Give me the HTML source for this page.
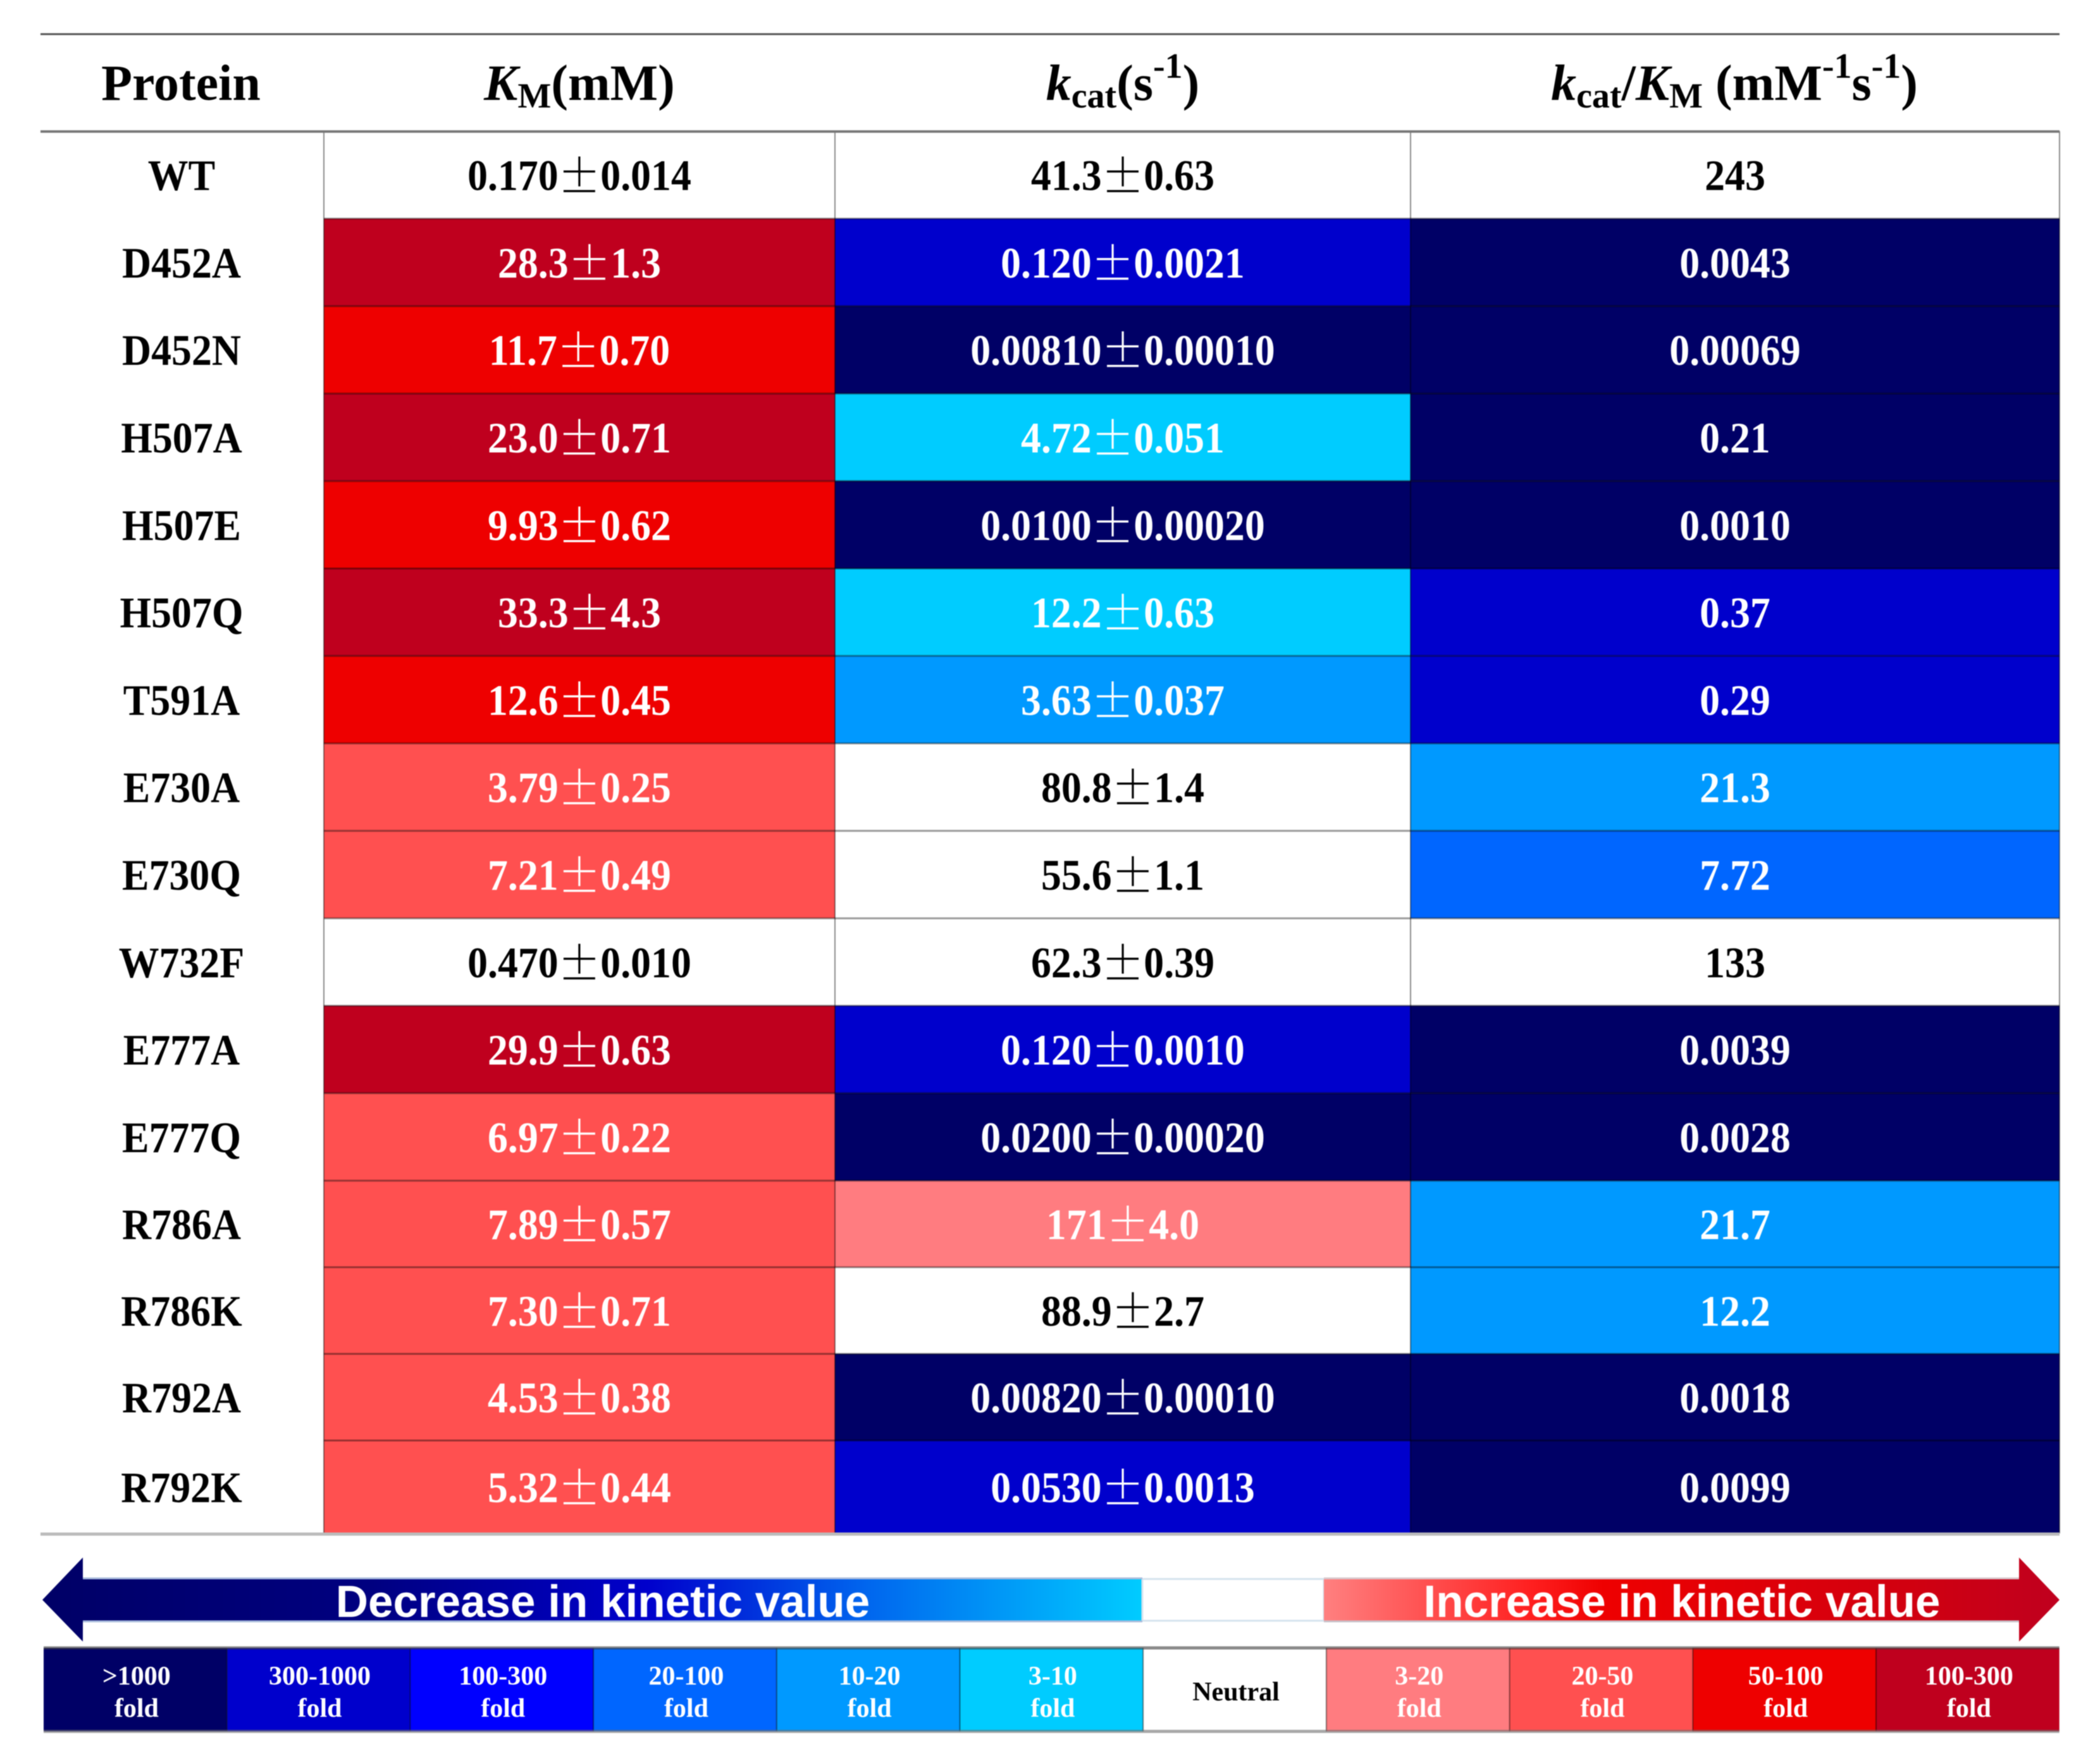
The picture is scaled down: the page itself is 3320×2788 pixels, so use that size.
<!DOCTYPE html>
<html lang="en">
<head>
<meta charset="utf-8">
<title>Kinetic parameters of protein variants</title>
<style>
html,body{margin:0;padding:0;background:#fff;}
svg{display:block;filter:blur(0.9px);}
text{font-family:"Liberation Serif",serif;font-weight:bold;text-anchor:middle;}
.hdr{font-size:80px;fill:#000;}
.sub{font-size:56px;}
.sup{font-size:56px;}
.arrow-label{font-family:"Liberation Sans",sans-serif;font-size:71px;fill:#fff;}
.pm{font-family:"Noto Serif CJK SC","Noto Sans CJK SC",serif;font-weight:bold;font-size:72px;}
</style>
</head>
<body>
<svg id="chart" xmlns="http://www.w3.org/2000/svg" width="3320" height="2788" viewBox="0 0 3320 2788">
  <defs>
    <linearGradient id="decGrad" gradientUnits="userSpaceOnUse" x1="67" y1="0" x2="1806" y2="0">
      <stop offset="0" stop-color="#000066"/>
      <stop offset="0.3" stop-color="#000080"/>
      <stop offset="0.55" stop-color="#0000cc"/>
      <stop offset="0.75" stop-color="#0066ee"/>
      <stop offset="1" stop-color="#00ccff"/>
    </linearGradient>
    <linearGradient id="incGrad" gradientUnits="userSpaceOnUse" x1="2093" y1="0" x2="3256" y2="0">
      <stop offset="0" stop-color="#ff8080"/>
      <stop offset="0.28" stop-color="#ff2020"/>
      <stop offset="0.38" stop-color="#ee0000"/>
      <stop offset="0.8" stop-color="#d00010"/>
      <stop offset="1" stop-color="#bf001e"/>
    </linearGradient>
  </defs>
  <rect x="0" y="0" width="3320" height="2788" fill="#ffffff"/>

  <g id="cells"></g>

  <line x1="64" x2="3256" y1="54" y2="54" stroke="#555" stroke-width="3"/>
  <line x1="64" x2="3256" y1="208" y2="208" stroke="#777" stroke-width="4"/>
  <line x1="64" x2="3256" y1="2426" y2="2426" stroke="#bbb" stroke-width="5"/>

  <text class="hdr" x="286" y="158">Protein</text>
  <text class="hdr" x="916" y="158"><tspan font-style="italic">K</tspan><tspan class="sub" dy="12">M</tspan><tspan dy="-12">(mM)</tspan></text>
  <text class="hdr" x="1775" y="158"><tspan font-style="italic">k</tspan><tspan class="sub" dy="12">cat</tspan><tspan dy="-12">(s</tspan><tspan class="sup" dy="-35">-1</tspan><tspan dy="35">)</tspan></text>
  <text class="hdr" x="2742" y="158"><tspan font-style="italic">k</tspan><tspan class="sub" dy="12">cat</tspan><tspan dy="-12">/</tspan><tspan font-style="italic">K</tspan><tspan class="sub" dy="12">M</tspan><tspan dy="-12"> (mM</tspan><tspan class="sup" dy="-35">-1</tspan><tspan dy="35">s</tspan><tspan class="sup" dy="-35">-1</tspan><tspan dy="35">)</tspan></text>

  <polygon points="67,2530 131,2463 131,2497 1806,2497 1806,2563 131,2563 131,2596" fill="url(#decGrad)"/>
  <rect x="1806" y="2497" width="287" height="66" fill="#ffffff" stroke="#d5e3ee" stroke-width="3"/>
  <polygon points="2093,2497 3192,2497 3192,2463 3256,2530 3192,2596 3192,2563 2093,2563" fill="url(#incGrad)"/>
  <line x1="131" x2="1806" y1="2496" y2="2496" stroke="#a9bcdc" stroke-width="3"/>
  <line x1="131" x2="1806" y1="2564" y2="2564" stroke="#a9bcdc" stroke-width="3"/>
  <line x1="2093" x2="3192" y1="2496" y2="2496" stroke="#d8c8cc" stroke-width="3"/>
  <line x1="2093" x2="3192" y1="2564" y2="2564" stroke="#c8c0c8" stroke-width="3"/>
  <text class="arrow-label" x="953" y="2557">Decrease in kinetic value</text>
  <text class="arrow-label" x="2659" y="2557">Increase in kinetic value</text>

  <g id="legend"></g>
</svg>

<script>
// ---- table data ----
var proteins = ["WT","D452A","D452N","H507A","H507E","H507Q","T591A","E730A","E730Q","W732F","E777A","E777Q","R786A","R786K","R792A","R792K"];
var kmValues = ["0.170","28.3","11.7","23.0","9.93","33.3","12.6","3.79","7.21","0.470","29.9","6.97","7.89","7.30","4.53","5.32"];
var kmErrors = ["0.014","1.3","0.70","0.71","0.62","4.3","0.45","0.25","0.49","0.010","0.63","0.22","0.57","0.71","0.38","0.44"];
var kcatValues = ["41.3","0.120","0.00810","4.72","0.0100","12.2","3.63","80.8","55.6","62.3","0.120","0.0200","171","88.9","0.00820","0.0530"];
var kcatErrors = ["0.63","0.0021","0.00010","0.051","0.00020","0.63","0.037","1.4","1.1","0.39","0.0010","0.00020","4.0","2.7","0.00010","0.0013"];
var kcatKmValues = ["243","0.0043","0.00069","0.21","0.0010","0.37","0.29","21.3","7.72","133","0.0039","0.0028","21.7","12.2","0.0018","0.0099"];

// ---- legend data (fold-change categories) ----
var legendLabels = [">1000","300-1000","100-300","20-100","10-20","3-10","Neutral","3-20","20-50","50-100","100-300"];
var decreaseLowerBounds = [1000,300,100,20,10,3];
var increaseLowerBounds = [3,20,50,100];

// ---- styling, by legend position ----
var binColors = ["#000066","#0000cc","#0000ff","#0066ff","#0099ff","#00ccff","#ffffff","#ff7c80","#ff5050","#ee0000","#bf001e"];
var NEUTRAL = legendLabels.indexOf("Neutral");
var CONDENSE = 0.925;

// ---- axis functions ----
function columnLeft(c){ return [512,1320,2230,3256][c]; }
function rowTop(i){
  if (i <= 12) return 207.5 + i * 138.3;
  if (i <= 15) return 1867 + (i - 12) * 137;
  return 2425;
}
function legendLeft(i){ return 69 + i * 289.7; }

function foldBin(value, reference){
  var v = parseFloat(value), r = parseFloat(reference), i;
  if (v < r) {
    var down = r / v;
    for (i = 0; i < decreaseLowerBounds.length; i++) {
      if (down >= decreaseLowerBounds[i]) return i;
    }
    return NEUTRAL;
  }
  var up = v / r;
  for (i = increaseLowerBounds.length - 1; i >= 0; i--) {
    if (up >= increaseLowerBounds[i]) return NEUTRAL + 1 + i;
  }
  return NEUTRAL;
}

var NS = "http://www.w3.org/2000/svg";
var cellsGroup = document.getElementById("cells");
var legendGroup = document.getElementById("legend");

function makeRect(parent, x, y, w, h, fill){
  var el = document.createElementNS(NS, "rect");
  el.setAttribute("x", x);
  el.setAttribute("y", y);
  el.setAttribute("width", w);
  el.setAttribute("height", h);
  el.setAttribute("fill", fill);
  parent.appendChild(el);
  return el;
}
function makeText(parent, x, y, size, fill, content){
  var el = document.createElementNS(NS, "text");
  el.setAttribute("x", x);
  el.setAttribute("y", y);
  el.setAttribute("font-size", size);
  el.setAttribute("fill", fill);
  el.textContent = content;
  parent.appendChild(el);
  return el;
}
function condense(el, x){
  el.setAttribute("transform", "translate(" + x + " 0) scale(" + CONDENSE + " 1) translate(" + (-x) + " 0)");
}
function appendSpan(parent, content, cls, dy){
  var sp = document.createElementNS(NS, "tspan");
  if (cls) sp.setAttribute("class", cls);
  if (dy) sp.setAttribute("dy", dy);
  sp.textContent = content;
  parent.appendChild(sp);
}
function makeLine(parent, x1, y1, x2, y2, stroke, width){
  var el = document.createElementNS(NS, "line");
  el.setAttribute("x1", x1);
  el.setAttribute("y1", y1);
  el.setAttribute("x2", x2);
  el.setAttribute("y2", y2);
  el.setAttribute("stroke", stroke);
  el.setAttribute("stroke-width", width);
  parent.appendChild(el);
  return el;
}

var columns = [
  {key:"km", values:kmValues, errors:kmErrors},
  {key:"kcat", values:kcatValues, errors:kcatErrors},
  {key:"kcat-km", values:kcatKmValues, errors:null}
];

proteins.forEach(function(protein, i){
  var top = rowTop(i), bottom = rowTop(i + 1), mid = (top + bottom) / 2;
  var rowLabel = makeText(cellsGroup, 287, mid + 24, 69, "#000", protein);
  
  
  condense(rowLabel, 287);

  columns.forEach(function(col, c){
    var left = columnLeft(c), right = columnLeft(c + 1);
    var bin = foldBin(col.values[i], col.values[0]);
    var cell = makeRect(cellsGroup, left, top, right - left, bottom - top, binColors[bin]);
    
    
    var cx = (left + right) / 2;
    var txt = makeText(cellsGroup, cx, mid + 24, 69, bin === NEUTRAL ? "#000" : "#fff", "");
    
    
    appendSpan(txt, col.values[i]);
    if (col.errors) {
      appendSpan(txt, "\u00b1", "pm", 4);
      appendSpan(txt, col.errors[i], null, -4);
    }
    condense(txt, cx);
  });
});

// grid lines over the coloured body
for (var r = 1; r < proteins.length; r++) {
  var rowLine = makeLine(cellsGroup, columnLeft(0), rowTop(r), columnLeft(3), rowTop(r), "rgba(0,0,0,0.4)", 3);
  
  
}
for (var k = 0; k < 4; k++) {
  var colLine = makeLine(cellsGroup, columnLeft(k), rowTop(0), columnLeft(k), rowTop(proteins.length), "rgba(0,0,0,0.45)", 2);
  
  
}

// legend
legendLabels.forEach(function(lbl, i){
  var left = legendLeft(i), right = legendLeft(i + 1), cx = (left + right) / 2 + 2;
  var swatch = makeRect(legendGroup, left, 2606, right - left, 132, binColors[i]);
  
  
  if (i === NEUTRAL) {
    var n = makeText(legendGroup, cx, 2689, 42, "#000", lbl);
    
    
  } else {
    var t1 = makeText(legendGroup, cx, 2664, 42, "#fff", lbl);
    
    
    var t2 = makeText(legendGroup, cx, 2715, 42, "#fff", "fold");
    
    
  }
  if (i > 0) {
    var sep = makeLine(legendGroup, left, 2606, left, 2738, "rgba(0,0,0,0.45)", 2);
    
    
  }
});
var legendTop = makeLine(legendGroup, 69, 2606, legendLeft(11), 2606, "rgba(60,60,60,0.6)", 5);


var legendBottom = makeLine(legendGroup, 69, 2738, legendLeft(11), 2738, "rgba(110,110,110,0.6)", 5);


</script>
</body>
</html>
